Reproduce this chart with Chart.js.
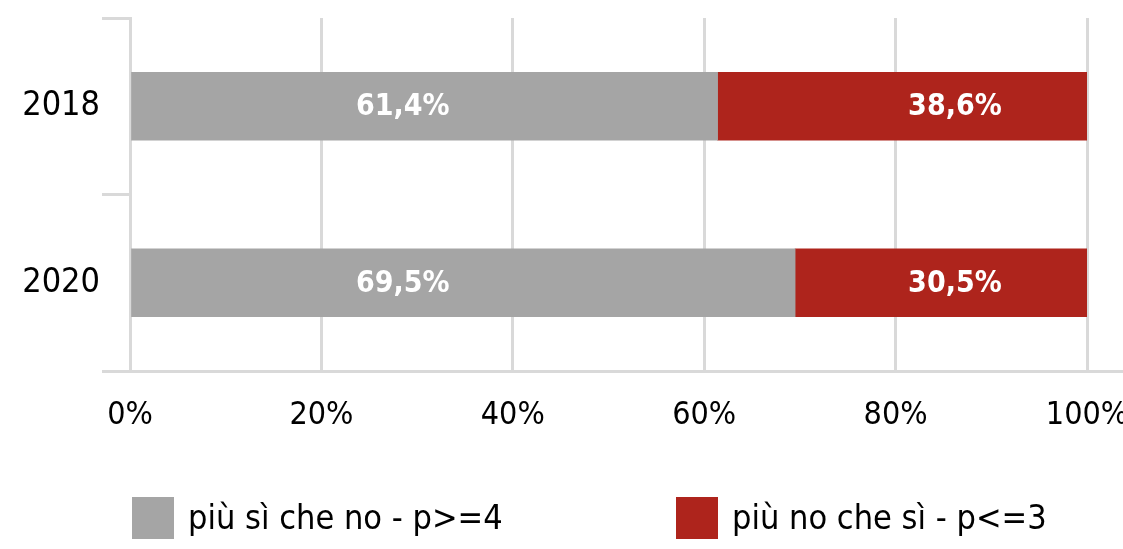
<!DOCTYPE html>
<html>
<head>
<meta charset="utf-8">
<script src="https://cdn.jsdelivr.net/npm/chart.js@4.4.1/dist/chart.umd.min.js"></script>
<style>
  html, body { margin: 0; padding: 0; background: #fff; }
  #wrap { width: 1123px; height: 549px; }
</style>
</head>
<body>
<div id="wrap"><canvas id="chart"></canvas></div>
<script>
// ---- data ----
const years = ['2018', '2020'];
const siValues = [61.4, 69.5];   // più sì che no
const noValues = [38.6, 30.5];   // più no che sì
const seriesNames = ['più sì che no - p>=4', 'più no che sì - p<=3'];
const seriesColors = ['#a5a5a5', '#ae241c'];

const FONT = '"Liberation Sans Narrow", "DejaVu Sans Condensed", sans-serif';
const GRID = '#d9d9d9';

// value labels sit at fixed spots along the axis (as in the source chart)
const labelAt = [28.5, 86.2];

const valueLabels = {
    id: 'valueLabels',
    afterDatasetsDraw(chart) {
        const { ctx } = chart;
        const xs = chart.scales.x;
        ctx.save();
        ctx.fillStyle = '#ffffff';
        ctx.font = 'bold 30px ' + FONT;
        ctx.textAlign = 'center';
        ctx.textBaseline = 'middle';
        chart.data.datasets.forEach((ds, d) => {
            chart.getDatasetMeta(d).data.forEach((bar, i) => {
                const txt = ds.data[i].toFixed(1).replace('.', ',') + '%';
                ctx.fillText(txt, xs.getPixelForValue(labelAt[d]), bar.y + 1);
            });
        });
        ctx.restore();
    }
};

// legend drawn under the axis, items spread like the original
const bottomLegend = {
    id: 'bottomLegend',
    afterDraw(chart) {
        const { ctx } = chart;
        const lefts = [132, 676];
        ctx.save();
        ctx.font = '34px ' + FONT;
        ctx.textBaseline = 'middle';
        ctx.textAlign = 'left';
        chart.data.datasets.forEach((ds, d) => {
            ctx.fillStyle = ds.backgroundColor;
            ctx.fillRect(lefts[d], 497, 42, 42);
            ctx.fillStyle = '#000';
            ctx.fillText(ds.label, lefts[d] + 56, 520);
        });
        // base line runs on to the right edge
        ctx.strokeStyle = GRID;
        ctx.lineWidth = 3;
        ctx.beginPath();
        ctx.moveTo(chart.chartArea.right, chart.chartArea.bottom + 0.5);
        ctx.lineTo(chart.width, chart.chartArea.bottom + 0.5);
        ctx.stroke();
        ctx.restore();
    }
};

const ctx = document.getElementById('chart').getContext('2d');
new Chart(ctx, {
    type: 'bar',
    data: {
        labels: years,
        datasets: [
            { label: seriesNames[0], data: siValues, backgroundColor: seriesColors[0], barThickness: 68 },
            { label: seriesNames[1], data: noValues, backgroundColor: seriesColors[1], barThickness: 68 }
        ]
    },
    options: {
        indexAxis: 'y',
        responsive: true,
        maintainAspectRatio: false,
        animation: false,
        layout: { padding: { top: 18, right: 36, bottom: 118, left: 0 } },
        plugins: { legend: { display: false }, tooltip: { enabled: false } },
        scales: {
            x: {
                stacked: true,
                min: 0, max: 100,
                afterFit: s => { s.height = 60; s.paddingLeft = 0; s.paddingRight = 0; },
                ticks: { stepSize: 20, padding: 25, color: '#000', font: { family: FONT, size: 32 }, callback: v => v + '%' },
                grid: { color: GRID, lineWidth: 3, drawTicks: false },
                border: { color: GRID, width: 3 }
            },
            y: {
                stacked: true,
                afterFit: s => { s.width = 130; s.paddingTop = 0; s.paddingBottom = 0; },
                ticks: { padding: 2, color: '#000', font: { family: FONT, size: 34 } },
                grid: { offset: true, drawOnChartArea: false, tickLength: 28, color: GRID, lineWidth: 3 },
                border: { color: GRID, width: 3 }
            }
        }
    },
    plugins: [valueLabels, bottomLegend]
});
</script>
</body>
</html>
